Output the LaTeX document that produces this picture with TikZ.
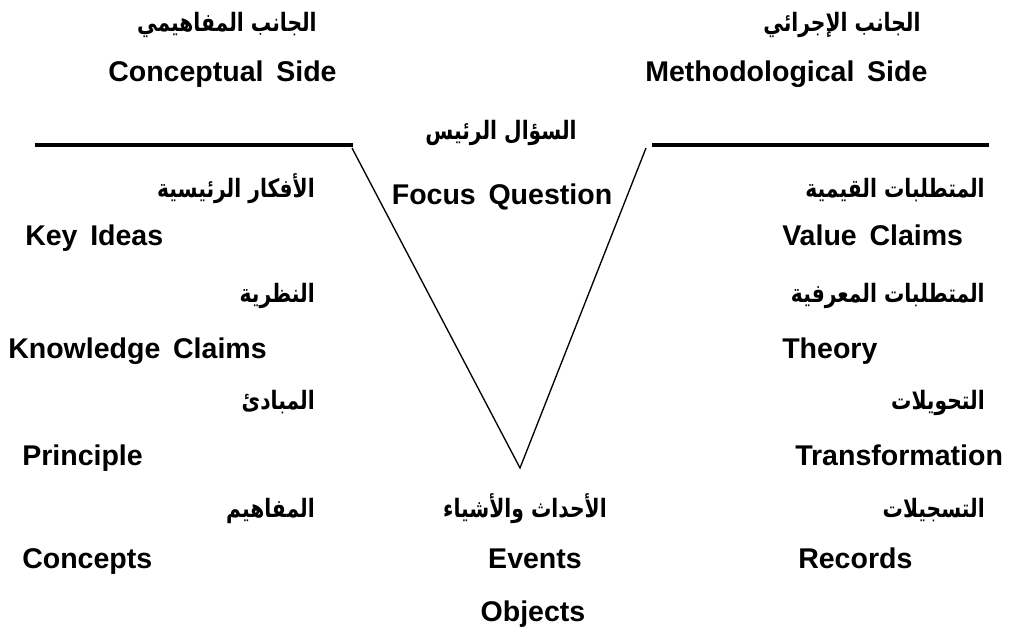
\documentclass[tikz,border=0pt]{standalone}
\usepackage{fontspec}
\setmainfont{Liberation Sans}[WordSpace=1.6]
\newfontfamily\arabicfont[Script=Arabic,FakeStretch=0.8]{DejaVu Sans}
\TeXXeTstate=1
\begin{document}
\begin{tikzpicture}[x=0.75pt,y=-0.75pt,
  en/.style={inner sep=0pt,font=\fontsize{21.4}{24}\selectfont\bfseries},
  ar/.style={inner sep=0pt,font=\fontsize{19}{22}\selectfont\arabicfont\bfseries},
  rule/.style={line width=2.8pt},
  vline/.style={line width=1pt}]
\useasboundingbox (0,0) rectangle (1009,634);

% Vee and the two horizontal rules
\coordinate (hl1) at (35,145);
\coordinate (hl2) at (353,145);
\coordinate (hr1) at (652,145);
\coordinate (hr2) at (989,145);
\coordinate (vl) at (352,148);
\coordinate (vt) at (520,468);
\coordinate (vr) at (646,148);
\draw[rule] (hl1) -- (hl2);
\draw[rule] (hr1) -- (hr2);
\draw[vline] (vl) -- (vt) -- (vr);

% Titles
\node[ar,anchor=base east] (tlar) at (317,32) {\beginR الجانب المفاهيمي\endR};
\node[en,anchor=base west] (tlen) at (108,82) {Conceptual Side};
\node[ar,anchor=base west] (trar) at (763,32) {\beginR الجانب الإجرائي\endR};
\node[en,anchor=base west] (tren) at (645,82) {Methodological Side};

% Centre column
\node[ar,anchor=base] (fqar) at (501,140) {\beginR السؤال الرئيس\endR};
\node[en,anchor=base] (fqen) at (502,205) {Focus Question};
\node[ar,anchor=base] (evar) at (525,517) {\beginR الأحداث والأشياء\endR};
\node[en,anchor=base] (even) at (535,568) {Events};
\node[en,anchor=base] (oben) at (533,621) {Objects};

% Conceptual side
\node[ar,anchor=base east] (kiar) at (315,198) {\beginR الأفكار الرئيسية\endR};
\node[en,anchor=base west] (kien) at (25,246) {Key Ideas};
\node[ar,anchor=base east] (thar) at (315,302) {\beginR النظرية\endR};
\node[en,anchor=base west] (kcen) at (8,358) {Knowledge Claims};
\node[ar,anchor=base east] (prar) at (315,409) {\beginR المبادئ\endR};
\node[en,anchor=base west] (pren) at (22,465) {Principle};
\node[ar,anchor=base east] (coar) at (315,517) {\beginR المفاهيم\endR};
\node[en,anchor=base west] (coen) at (22,568) {Concepts};

% Methodological side
\node[ar,anchor=base east] (vcar) at (985,198) {\beginR المتطلبات القيمية\endR};
\node[en,anchor=base west] (vcen) at (782,246) {Value Claims};
\node[ar,anchor=base east] (kcar) at (985,302) {\beginR المتطلبات المعرفية\endR};
\node[en,anchor=base west] (then) at (782,358) {Theory};
\node[ar,anchor=base east] (trfar) at (985,409) {\beginR التحويلات\endR};
\node[en,anchor=base west] (trfen) at (795,465) {Transformation};
\node[ar,anchor=base east] (rcar) at (985,517) {\beginR التسجيلات\endR};
\node[en,anchor=base west] (rcen) at (798,568) {Records};
\end{tikzpicture}
\end{document}
